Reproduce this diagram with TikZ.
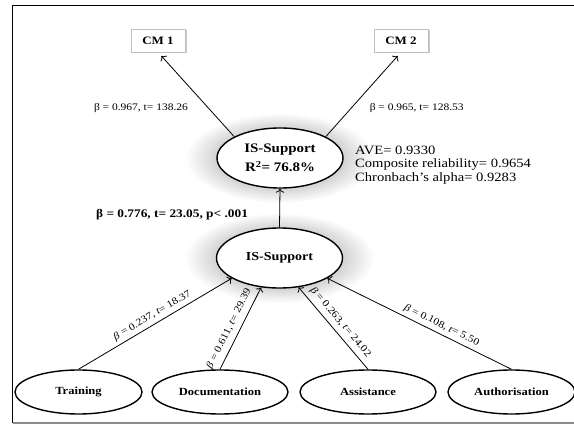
\documentclass[tikz,border=0pt]{standalone}
\usepackage{fontspec}
\setmainfont[FakeStretch=1.15]{Liberation Serif}
\usetikzlibrary{positioning, arrows.meta, shapes.geometric, shadows, fadings}
\pgfdeclareradialshading{hazeshade}{\pgfpointorigin}{color(0bp)=(white);
    color(12bp)=(white); color(25bp)=(black); color(50bp)=(black)}
\pgfdeclarefading{haze}{\pgfuseshading{hazeshade}}

\begin{document}
\begin{tikzpicture}[x=1pt, y=-1pt,
        latent/.style={ellipse, draw, line width=1.4pt, fill=white, inner sep=0pt,
                       minimum height=44pt, font=\fontsize{10.9}{13}\selectfont\bfseries},
        core/.style={latent, minimum width=126pt, minimum height=60pt,
                     font=\fontsize{13}{19}\selectfont\bfseries,
                     general shadow={fill=black!60, opacity=0.45, shadow scale=1.5,
                                     path fading=haze}},
        cmbox/.style={draw=black!25, fill=white, minimum width=54pt, minimum height=23pt,
                      font=\fontsize{11.3}{13}\selectfont\bfseries,
                      drop shadow={shadow xshift=1.5pt, shadow yshift=-1.5pt,
                                   fill=black!35, opacity=0.6}},
        coef/.style={font=\fontsize{10}{12}\selectfont, inner sep=2pt},
        link/.style={-{To[length=4pt]}, line width=0.8pt}
    ]

    \useasboundingbox (0,0) rectangle (574,425);
    \draw[line width=1.6pt] (590,5.5) -- (12.5,5.5) -- (12.5,423);
    \draw[black!45, line width=1.2pt] (12.5,423) -- (590,423);

    \node[cmbox] (cm1) at (158,40.5) {CM 1};
    \node[cmbox] (cm2) at (401,40.5) {CM 2};

    \node[core, align=center] (isr) at (280,158) {IS-Support\\R\textsuperscript{2}= 76.8\%};
    \node[core, font=\fontsize{12.2}{14}\selectfont\bfseries] (is) at (279.5,258) {IS-Support};

    \node[latent, minimum width=127pt] (train) at (78.5,392) {Training};
    \node[latent, minimum width=136pt] (doc) at (220,392) {Documentation};
    \node[latent, minimum width=136pt] (assist) at (368,392) {Assistance};
    \node[latent, minimum width=127pt] (auth) at (511.5,392) {Authorisation};

    \node[anchor=west, align=left, inner sep=0pt,
          font=\fontsize{12.7}{13.5}\selectfont] (stats) at (355,165)
        {AVE= 0.9330\\Composite reliability= 0.9654\\Chronbach’s alpha= 0.9283};

    \draw[link, shorten >=5pt] (isr.155) -- node[coef, pos=0.34, left=18pt]
        {β = 0.967, t= 138.26} (cm1.south);
    \draw[link, shorten >=5pt] (isr.25) -- node[coef, pos=0.34, right=16pt]
        {β = 0.965, t= 128.53} (cm2.south);

    \draw[link] (is.north) -- node[pos=0.32, left=28pt,
        font=\fontsize{11.6}{14}\selectfont\bfseries]
        {β = 0.776, t= 23.05, p< .001} (isr.south);

    \draw[link] (train.north) -- node[coef, sloped, above=1.5pt, pos=0.51]
        {\textit{β} = 0.237, \textit{t}= 18.37} (is.203);
    \draw[link] (doc.north) -- node[coef, sloped, above=3pt, pos=0.44]
        {\textit{β} = 0.611, \textit{t}= 29.39} (is.238);
    \draw[link] (assist.north) -- node[coef, sloped, above=2.5pt, pos=0.5]
        {\textit{β} = 0.263, \textit{t}= 24.02} (is.303);
    \draw[link] (auth.north) -- node[coef, sloped, above=1.5pt, pos=0.4]
        {\textit{β} = 0.108, \textit{t}= 5.50} (is.337);

\end{tikzpicture}
\end{document}
